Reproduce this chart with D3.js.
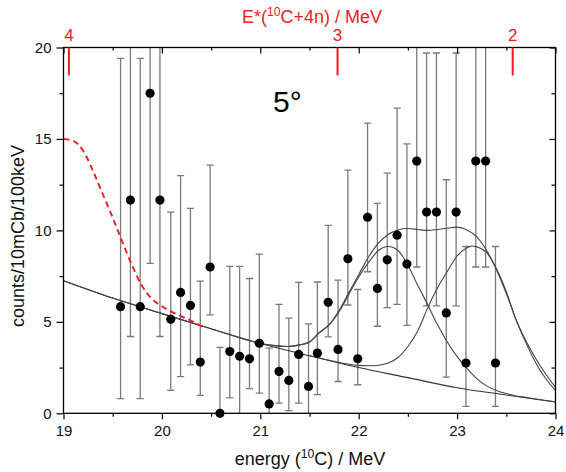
<!DOCTYPE html>
<html><head><meta charset="utf-8">
<script src="https://cdn.jsdelivr.net/npm/d3@7"></script>
<style>
body{margin:0;background:#fff}
svg{display:block}
text{font-family:"Liberation Sans",Arial,Helvetica,sans-serif}
</style>
</head><body>
<svg id="chart" width="566" height="472"></svg>
<script>
// ---- data ----
const energies = [19.58,19.68,19.78,19.88,19.98,20.09,20.19,20.29,20.39,20.49,
  20.59,20.69,20.79,20.89,20.99,21.09,21.19,21.29,21.39,21.49,
  21.58,21.69,21.79,21.89,21.99,22.09,22.19,22.29,22.39,22.49,
  22.59,22.69,22.79,22.89,22.99,23.09,23.19,23.29,23.39];
const counts = [5.83,11.66,5.83,17.5,11.66,5.14,6.61,5.9,2.8,8.0,
  0.0,3.38,3.12,2.98,3.83,0.51,2.29,1.8,3.22,1.47,
  3.29,6.07,3.49,8.45,2.98,10.72,6.83,8.39,9.74,8.16,
  13.79,11.0,11.0,5.49,11.0,2.75,13.79,13.79,2.75];
const errLow = [0.8,4.2,0.8,8.2,4.2,1.25,2.0,2.65,0.98,5.38,
  -1,0.84,-1,1.35,1.1,-1,0.56,0.15,0.56,-1,
  1.02,4.18,1.74,5.92,1.56,7.74,4.76,5.78,5.96,4.81,
  8.0,5.87,5.87,1.98,5.87,0.38,8.0,8.0,0.38];
const errHigh = [19.4,22,19.4,27,22,11.0,13.0,11.2,7.23,13.57,
  3.6,8.03,8.03,7.37,8.7,3.56,5.96,5.2,7.16,4.89,
  7.18,10.28,7.28,13.3,6.77,15.87,11.48,13.13,16.68,14.73,
  22,19.7,19.7,12.77,19.7,9.12,22,22,9.12];

const xTicks = [19,20,21,22,23,24];
const xMinorTicks = [19.5,20.5,21.5,22.5,23.5];
const yTicks = [0,5,10,15,20];
const yMinorTicks = [2.5,7.5,12.5,17.5];
const topTickLabels = ["4","3","2"];
const topTickEnergies = [19.055,21.785,23.565];

// fitted curves: [energy, counts]
const bgCurve = [[19,7.25],[19.5,6.3],[20,5.45],[20.5,4.62],[21,3.82],[21.5,3.15],
  [22,2.5],[22.5,1.95],[23,1.4],[23.5,1.0],[24,0.62]];
const totalCurve = [[19,7.25],[19.5,6.3],[20,5.45],[20.5,4.62],[21,3.82],[21.15,3.7],
  [21.28,3.65],[21.4,3.74],[21.5,3.9],[21.6,4.42],[21.7,4.85],[21.8,5.62],[21.9,6.6],
  [22.0,7.58],[22.1,8.55],[22.2,9.3],[22.3,9.78],[22.4,10.02],[22.5,10.1],[22.6,10.05],
  [22.7,10.0],[22.8,10.05],[22.9,10.12],[23.0,10.18],[23.1,10.02],[23.2,9.65],[23.3,8.9],
  [23.4,7.85],[23.5,6.55],[23.6,5.1],[23.7,3.95],[23.8,2.98],[23.9,2.15],[24.0,1.42]];
const peak1Curve = [[21,3.82],[21.15,3.7],[21.28,3.65],[21.4,3.74],[21.5,3.9],[21.6,4.4],
  [21.7,4.83],[21.8,5.55],[21.9,6.5],[22.0,7.45],[22.1,8.25],[22.2,8.9],[22.3,9.12],
  [22.4,8.9],[22.5,8.1],[22.6,7.0],[22.7,5.95],[22.8,4.85],[22.9,3.9],[23.0,3.1],
  [23.1,2.45],[23.2,1.9],[23.3,1.5],[23.4,1.25],[23.5,1.08],[23.6,0.95],[23.7,0.87],
  [23.8,0.78],[23.9,0.7],[24.0,0.63]];
const peak2Curve = [[21.5,3.15],[21.7,2.9],[21.9,2.68],[22.0,2.62],[22.1,2.6],[22.2,2.63],
  [22.3,2.75],[22.4,3.05],[22.5,3.65],[22.6,4.5],[22.7,5.75],[22.8,6.85],[22.9,7.75],
  [23.0,8.6],[23.1,9.05],[23.15,9.15],[23.2,9.1],[23.3,8.78],[23.4,7.9],[23.5,6.65],
  [23.6,5.1],[23.7,3.85],[23.8,2.75],[23.9,1.9],[24.0,1.25]];
const extrapCurve = [[19.0,15.0],[19.1,14.9],[19.2,14.35],[19.3,13.25],[19.4,11.97],
  [19.5,10.7],[19.6,9.35],[19.7,8.05],[19.8,6.95],[19.9,6.25],[20.0,5.85],[20.1,5.55],
  [20.2,5.3],[20.3,5.05],[20.42,4.72]];

const angleLabel = "5°";

// ---- drawing ----
const RED = "#ee1c24";
const svg = d3.select("#chart");
const x = d3.scaleLinear().domain([19,24]).range([63.5,555.5]);
const y = d3.scaleLinear().domain([0,20]).range([413.3,47.5]);
const [x0,x1] = x.range(), [y0,y1] = y.range();

svg.append("defs").append("clipPath").attr("id","plotClip")
  .append("rect").attr("x",x0).attr("y",y1).attr("width",x1-x0).attr("height",y0-y1);

const pts = energies.map((e,i)=>({e, c:counts[i], lo:errLow[i], hi:errHigh[i]}));

// error bars
const eb = svg.append("g").attr("clip-path","url(#plotClip)")
  .attr("stroke","#7a7a7a").attr("stroke-width",1.3).attr("fill","none");
eb.selectAll("line.v").data(pts).join("line").attr("class","v")
  .attr("x1",d=>x(d.e)).attr("x2",d=>x(d.e)).attr("y1",d=>y(d.lo)).attr("y2",d=>y(d.hi));
eb.selectAll("line.ct").data(pts).join("line").attr("class","ct")
  .attr("x1",d=>x(d.e)-3.6).attr("x2",d=>x(d.e)+3.6).attr("y1",d=>y(d.hi)).attr("y2",d=>y(d.hi));
eb.selectAll("line.cb").data(pts).join("line").attr("class","cb")
  .attr("x1",d=>x(d.e)-3.6).attr("x2",d=>x(d.e)+3.6).attr("y1",d=>y(d.lo)).attr("y2",d=>y(d.lo));

// curves
const line = d3.line().x(d=>x(d[0])).y(d=>y(d[1])).curve(d3.curveMonotoneX);
const cg = svg.append("g").attr("clip-path","url(#plotClip)").attr("fill","none");
cg.append("path").attr("d",line(bgCurve)).attr("stroke","#333").attr("stroke-width",1.1);
cg.append("path").attr("d",line(peak1Curve)).attr("stroke","#444").attr("stroke-width",1.1);
cg.append("path").attr("d",line(peak2Curve)).attr("stroke","#444").attr("stroke-width",1.1);
cg.append("path").attr("d",line(totalCurve)).attr("stroke","#444").attr("stroke-width",1.1);
cg.append("path").attr("d",line(extrapCurve)).attr("stroke",RED).attr("stroke-width",1.9)
  .attr("stroke-dasharray","6,4");

// points
svg.append("g").selectAll("circle").data(pts).join("circle")
  .attr("cx",d=>x(d.e)).attr("cy",d=>y(d.c)).attr("r",4.6).attr("fill","#000");

// axes
function styleAxis(g){
  g.select(".domain").remove();
  g.selectAll(".tick line").attr("stroke","#000").attr("stroke-width",1.2);
  g.selectAll("text").attr("font-size",15).attr("fill","#111")
    .style("font-family",'"Liberation Sans",Arial,sans-serif');
}
svg.append("g").attr("transform",`translate(0,${y0})`)
  .call(d3.axisBottom(x).tickValues(xTicks).tickSize(6).tickPadding(6).tickFormat(d3.format("d")))
  .call(styleAxis);
svg.append("g").attr("transform",`translate(0,${y0})`)
  .call(d3.axisBottom(x).tickValues(xMinorTicks).tickSize(3.5).tickFormat(""))
  .call(styleAxis);
svg.append("g").attr("transform",`translate(${x0},0)`)
  .call(d3.axisLeft(y).tickValues(yTicks).tickSize(7).tickPadding(5).tickFormat(d3.format("d")))
  .call(styleAxis);
svg.append("g").attr("transform",`translate(${x0},0)`)
  .call(d3.axisLeft(y).tickValues(yMinorTicks).tickSize(4).tickFormat(""))
  .call(styleAxis);
// mirror axes (inward ticks)
svg.append("g").attr("transform",`translate(0,${y1})`)
  .call(d3.axisBottom(x).tickValues(xTicks).tickSize(6).tickFormat("")).call(styleAxis);
svg.append("g").attr("transform",`translate(0,${y1})`)
  .call(d3.axisBottom(x).tickValues(xMinorTicks).tickSize(3).tickFormat("")).call(styleAxis);
svg.append("g").attr("transform",`translate(${x1},0)`)
  .call(d3.axisLeft(y).tickValues(yTicks).tickSize(6).tickFormat("")).call(styleAxis);
svg.append("g").attr("transform",`translate(${x1},0)`)
  .call(d3.axisLeft(y).tickValues(yMinorTicks).tickSize(4).tickFormat("")).call(styleAxis);

// frame
svg.append("rect").attr("x",x0).attr("y",y1).attr("width",x1-x0).attr("height",y0-y1)
  .attr("fill","none").attr("stroke","#000").attr("stroke-width",1.3);

// top red E* axis
const topG = svg.append("g");
topG.selectAll("line").data(topTickEnergies).join("line")
  .attr("x1",d=>x(d)).attr("x2",d=>x(d)).attr("y1",y1).attr("y2",y1+28)
  .attr("stroke",RED).attr("stroke-width",2);
topG.selectAll("text").data(topTickEnergies).join("text")
  .attr("x",d=>x(d)).attr("y",y1-7).attr("text-anchor","middle")
  .attr("font-size",17).attr("fill",RED).text((d,i)=>topTickLabels[i]);

// titles
function supTitle(parent, parts, attrs){
  const t = parent.append("text");
  Object.entries(attrs).forEach(([k,v])=>t.attr(k,v));
  parts.forEach(p=>{
    const s = t.append("tspan").text(p.t);
    if(p.sup){ s.attr("font-size","0.68em").attr("dy","-0.55em"); }
    else if(p.after){ s.attr("dy","0.37em"); }
  });
  return t;
}
supTitle(svg,[{t:"E*("},{t:"10",sup:true},{t:"C+4n) / MeV",after:true}],
  {x:312,y:23,"text-anchor":"middle","font-size":18,fill:RED});
supTitle(svg,[{t:"energy ("},{t:"10",sup:true},{t:"C) / MeV",after:true}],
  {x:310,y:465,"text-anchor":"middle","font-size":18,fill:"#111"});
svg.append("text").attr("transform","translate(24,236) rotate(-90)")
  .attr("text-anchor","middle").attr("font-size",18).attr("fill","#111")
  .text("counts/10mCb/100keV");

svg.append("text").attr("x",x(21.13)).attr("y",y(16.5)).attr("font-size",30).attr("fill","#000")
  .text(angleLabel);
</script>
</body></html>
